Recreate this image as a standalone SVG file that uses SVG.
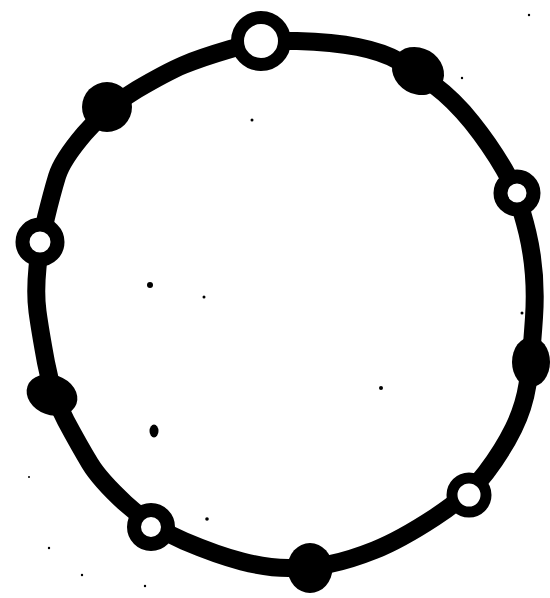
<svg xmlns="http://www.w3.org/2000/svg" width="550" height="598" viewBox="0 0 550 598">
<style>
.ring{fill:none;stroke:#000;stroke-width:18;stroke-linejoin:round}
.open{fill:#fff;stroke:#000}
.full{fill:#000}
.speck{fill:#000}
</style>
<rect width="550" height="598" fill="#fff"/>
<g id="connectors">
<path class="ring" d="M230.5,49 Q261,40 297,41 Q333,42 358,47 Q383,52 398.5,61 Q414,70 434,85 Q454,100 472,122.5 Q490,145 504,169 Q518,193 527.5,233 Q537,273 534,317.5 Q531,362 527.5,384.5 Q524,407 513.5,428.5 Q503,450 486,472.5 Q469,495 434.5,517.5 Q400,540 375,550 Q350,560 330,564 Q310,568 288.5,568 Q267,568 242,561.5 Q217,555 184,541 Q151,527 125.5,503.5 Q100,480 90,463.5 Q80,447 66,421 Q52,395 46,362.5 Q40,330 37.5,311.5 Q35,293 37.5,267.5 Q40,242 46,217.5 Q52,193 57,176.5 Q62,160 84.5,133.5 Q107,107 137,89.5 Q167,72 183.5,65 Q200,58 230.5,49 Z"/>
</g>
<g id="bead-top-open"><circle class="open" cx="261" cy="41" r="23.5" stroke-width="13"/></g>
<g id="bead-upper-right-full"><ellipse class="full" cx="418" cy="71" rx="27" ry="23" transform="rotate(30 418 71)"/></g>
<g id="bead-right-open"><circle class="open" cx="517" cy="193" r="16.5" stroke-width="14"/></g>
<g id="bead-right-full"><ellipse class="full" cx="531" cy="362" rx="19" ry="25"/></g>
<g id="bead-lower-right-open"><circle class="open" cx="469" cy="495" r="17" stroke-width="11"/></g>
<g id="bead-bottom-full"><ellipse class="full" cx="310" cy="568" rx="22.5" ry="25"/></g>
<g id="bead-lower-left-open"><circle class="open" cx="151" cy="527" r="17" stroke-width="14"/></g>
<g id="bead-left-full"><ellipse class="full" cx="52" cy="395" rx="26" ry="20" transform="rotate(20 52 395)"/></g>
<g id="bead-left-open"><circle class="open" cx="40" cy="242" r="17.5" stroke-width="14"/></g>
<g id="bead-upper-left-full"><circle class="full" cx="107" cy="107" r="25"/></g>
<g id="specks">
<circle class="speck" cx="150" cy="285" r="3"/>
<circle class="speck" cx="204" cy="297" r="1.5"/>
<circle class="speck" cx="381" cy="388" r="2"/>
<ellipse class="speck" cx="154" cy="431" rx="4.5" ry="6.5"/>
<circle class="speck" cx="252" cy="120" r="1.5"/>
<circle class="speck" cx="529" cy="15" r="1.2"/>
<circle class="speck" cx="462" cy="78" r="1.2"/>
<circle class="speck" cx="207" cy="519" r="1.8"/>
<circle class="speck" cx="29" cy="477" r="1"/>
<circle class="speck" cx="49" cy="548" r="1.2"/>
<circle class="speck" cx="82" cy="575" r="1.2"/>
<circle class="speck" cx="145" cy="586" r="1.2"/>
<circle class="speck" cx="522" cy="313" r="1.5"/>
</g>
</svg>
